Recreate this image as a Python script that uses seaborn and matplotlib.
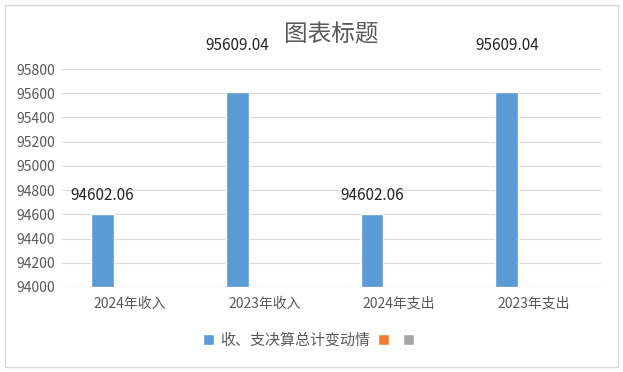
import pandas as pd
import seaborn as sns
import matplotlib.pyplot as plt
from matplotlib.patches import Rectangle, Patch

# ── Data ───────────────────────────────────────────────────────────────────────
categories = ['2024年收入', '2023年收入', '2024年支出', '2023年支出']
series_names = ['收、支决算总计变动情', '系列2', '系列3']
values_main = [94602.06, 95609.04, 94602.06, 95609.04]
label_pad = [10, 38, 10, 38]   # label distance above bar top, pixels
colors = ['#5B9BD5', '#ED7D31', '#A5A5A5']

rows = []
for i, cat in enumerate(categories):
    rows.append({'cat': cat, 'series': series_names[0], 'val': values_main[i]})
    rows.append({'cat': cat, 'series': series_names[1], 'val': float('nan')})
    rows.append({'cat': cat, 'series': series_names[2], 'val': float('nan')})
df = pd.DataFrame(rows)

sns.set_style('white')
plt.rcParams['font.family'] = ['Noto Sans CJK SC', 'DejaVu Sans']

fig = plt.figure(figsize=(6.23, 3.72), dpi=100)
ax = fig.add_axes([0.0995, 0.2285, 0.8655, 0.586])

sns.barplot(data=df, x='cat', y='val', hue='series', palette=colors,
            width=0.6, gap=0.15, saturation=1, ax=ax, legend=False)

ax.set_ylim(94000, 95800)
ax.set_xlim(-0.5, 3.5)
ax.set_yticks(range(94000, 95801, 200))
ax.yaxis.grid(True, color='#D9D9D9', linewidth=0.8)
ax.set_axisbelow(True)
for s in ax.spines.values():
    s.set_visible(False)
ax.axhline(94000, color='#D9D9D9', linewidth=1.0)
ax.set_xlabel('')
ax.set_ylabel('')
ax.tick_params(axis='both', length=0, labelsize=10, colors='#595959')
ax.tick_params(axis='x', pad=7)
ax.tick_params(axis='y', pad=5)

# ── Data labels ────────────────────────────────────────────────────────────────
main_bars = ax.containers[0]
for bar, v, pad in zip(main_bars, values_main, label_pad):
    ax.annotate(f'{v:.2f}', (bar.get_x() + bar.get_width() / 2, v),
                xytext=(0, pad), textcoords='offset pixels',
                ha='center', va='bottom', fontsize=11, color='#262626',
                annotation_clip=False)

ax.set_title('图表标题', fontsize=17, color='#595959', pad=20)

# ── Legend ─────────────────────────────────────────────────────────────────────
handles = [Patch(facecolor=c) for c in colors]
fig.legend(handles, [series_names[0], '', ''], loc='center',
           bbox_to_anchor=(0.5, 0.086), ncol=3, frameon=False,
           fontsize=10.8, labelcolor='#595959', handlelength=0.75,
           handleheight=0.75, handletextpad=0.4, columnspacing=0.5)

# outer chart border
fig.patches.append(Rectangle((0.008, 0.014), 0.984, 0.972, transform=fig.transFigure,
                             fill=False, edgecolor='#D9D9D9', linewidth=1))

plt.savefig('out.png', dpi=100)
